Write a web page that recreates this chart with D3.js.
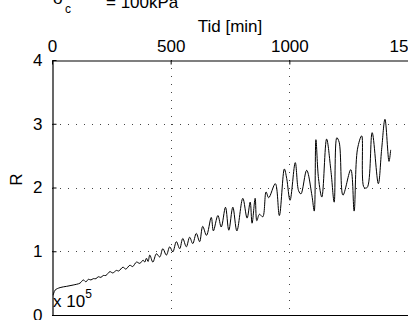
<!DOCTYPE html>
<html><head><meta charset="utf-8">
<script src="https://cdn.jsdelivr.net/npm/d3@7"></script>
<style>body{margin:0;background:#fff;overflow:hidden}svg{display:block}text{font-family:"Liberation Sans",Arial,sans-serif;fill:#000}</style>
</head><body><svg id="c" width="408" height="320"></svg>
<script>
const xTicks = [0, 500, 1000, 1500];
const yTicks = [0, 1, 2, 3, 4];
const tMin = [5,13,34,62,89,118,132,143,153,164,174,185,195,206,216,227,244,256,272,281,299,311,328,340,356,370,384,391,398,405,412,425,440,454,467,482,496,509,524,538,551,566,580,593,608,622,635,651,671,680,699,713,731,745,762,779,804,822,835,843,856,863,874,888,902,913,941,958,979,989,1003,1025,1039,1049,1073,1095,1105,1112,1123,1137,1157,1175,1189,1200,1210,1226,1259,1273,1287,1305,1315,1328,1349,1375,1389,1403,1420,1427];
const rVal = [0.31,0.39,0.43,0.45,0.47,0.50,0.55,0.52,0.56,0.55,0.57,0.57,0.60,0.59,0.62,0.62,0.68,0.66,0.70,0.69,0.75,0.72,0.78,0.76,0.83,0.81,0.86,0.83,0.89,0.84,0.94,0.83,0.96,0.91,1.04,0.94,1.07,0.99,1.15,1.04,1.20,1.07,1.22,1.12,1.28,1.15,1.39,1.25,1.53,1.32,1.56,1.38,1.69,1.33,1.69,1.32,1.83,1.52,1.77,1.44,1.83,1.48,1.58,1.54,1.93,1.84,2.06,1.56,2.29,2.14,1.80,2.39,1.95,1.90,2.27,1.88,1.63,2.75,2.14,1.85,2.76,2.27,1.77,2.78,2.71,1.88,2.28,1.63,2.60,2.81,2.00,2.00,2.86,2.06,2.60,3.07,2.41,2.59];

const svg = d3.select("#c");
const L = 52, R = 408, T = 60, B = 315;
const x = d3.scaleLinear().domain([0, 1500]).range([L, R]);
const y = d3.scaleLinear().domain([0, 4]).range([B, T]);
const FS = 17;

// grid
const grid = svg.append("g").attr("stroke", "#444").attr("stroke-width", 1).attr("stroke-dasharray", "1,7").attr("fill", "none");
[1,2,3].forEach(v => grid.append("line").attr("x1", L).attr("x2", R).attr("y1", Math.round(y(v))+0.5).attr("y2", Math.round(y(v))+0.5));
[500,1000].forEach(v => grid.append("line").attr("x1", Math.round(x(v))+0.5).attr("x2", Math.round(x(v))+0.5).attr("y1", T).attr("y2", B));

// line
const data = tMin.map((t, i) => [t, rVal[i]]);
svg.append("path").datum(data)
  .attr("fill", "none").attr("stroke", "#000").attr("stroke-width", 1).attr("stroke-linejoin", "round")
  .attr("d", d3.line().curve(d3.curveCatmullRom.alpha(0.5)).x(d => x(d[0])).y(d => y(d[1])));

// axes
const axTop = d3.axisTop(x).tickValues(xTicks).tickSizeInner(-4).tickSizeOuter(0).tickPadding(9).tickFormat(d3.format("d"));
const gt = svg.append("g").attr("transform", `translate(0,${T+0.5})`).call(axTop);
const axLeft = d3.axisLeft(y).tickValues(yTicks).tickSizeInner(-4).tickSizeOuter(0).tickPadding(10).tickFormat(d3.format("d"));
const gl = svg.append("g").attr("transform", `translate(${L+0.5},0)`).call(axLeft);
[gt, gl].forEach(g => { g.selectAll("text").attr("font-size", FS).attr("font-family", '"Liberation Sans",Arial,sans-serif'); g.selectAll("path,line").attr("stroke", "#000"); g.select(".domain").attr("stroke-width", 1.2); });
// box bottom
svg.append("line").attr("x1", L).attr("x2", R).attr("y1", B+0.5).attr("y2", B+0.5).attr("stroke", "#000").attr("stroke-width", 1.2);

// labels
svg.append("text").attr("x", (L+R)/2).attr("y", 32).attr("text-anchor", "middle").attr("font-size", FS).text("Tid [min]");
svg.append("text").attr("transform", `translate(22,${(T+B)/2 - 8}) rotate(-90)`).attr("text-anchor", "middle").attr("font-size", FS).text("R");
const ex = svg.append("text").attr("x", 53).attr("y", 307).attr("font-size", FS);
ex.append("tspan").text("x 10");
ex.append("tspan").attr("font-size", 12).attr("dy", -9).text("5");
svg.append("text").attr("x", 53).attr("y", 4).attr("font-size", FS).text("σ");
svg.append("text").attr("x", 65).attr("y", 13).attr("font-size", 12).text("c");
svg.append("text").attr("x", 106).attr("y", 8).attr("font-size", FS).text("= 100kPa");
</script></body></html>
